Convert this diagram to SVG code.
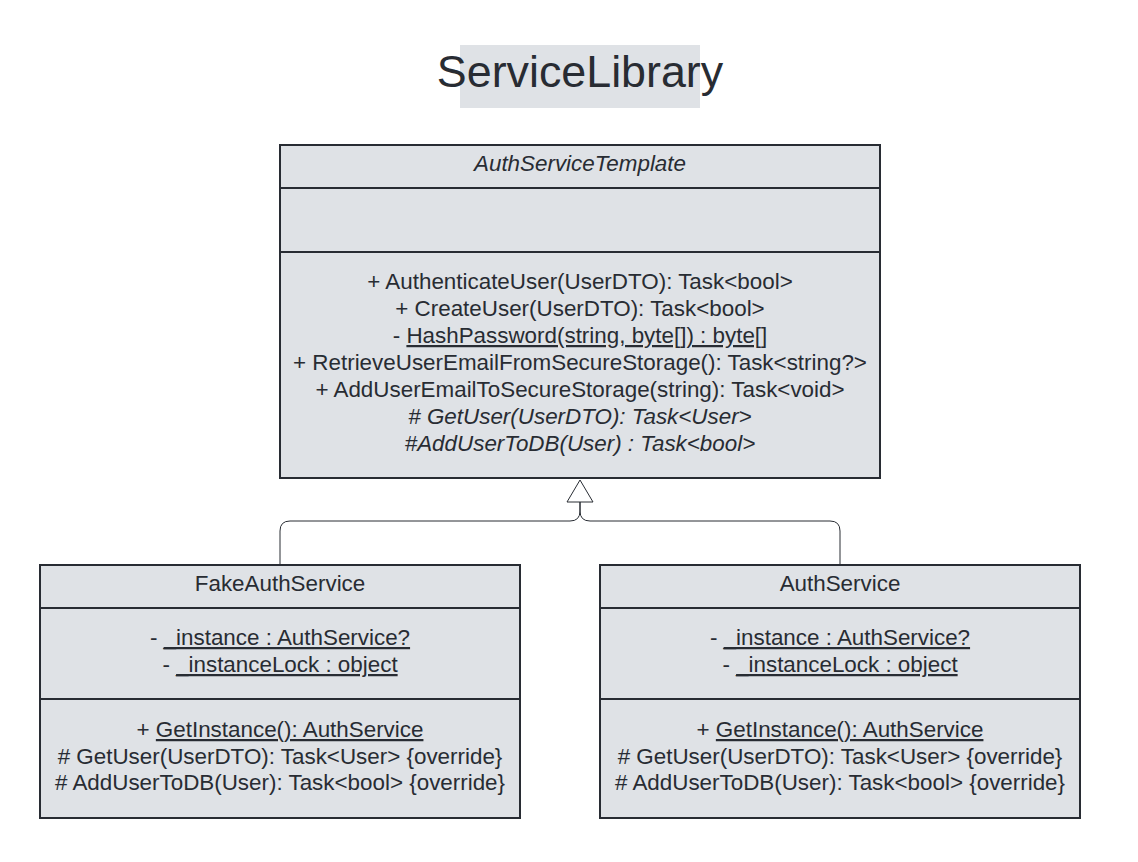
<svg xmlns="http://www.w3.org/2000/svg" width="1138" height="862" viewBox="0 0 1138 862">
<style>
.box{fill:#dfe2e6;stroke:#282c33;stroke-width:2}
.div{stroke:#282c33;stroke-width:2}
text{font-family:"Liberation Sans",Arial,sans-serif;font-size:22.4px;fill:#282c33;text-anchor:middle}
.it{font-style:italic}
.u{text-decoration:underline}
.conn{fill:none;stroke:#282c33;stroke-width:1}
</style>
<rect width="1138" height="862" fill="#ffffff"/>
<g id="title">
<rect x="460" y="45" width="240" height="63" fill="#dfe2e6"/>
<text x="580" y="87" style="font-size:44.8px">ServiceLibrary</text>
</g>
<g id="connectors">
<path class="conn" d="M580 502 V511 Q580 521 570 521 H290 Q280 521 280 531 V565"/>
<path class="conn" d="M580 502 V511 Q580 521 590 521 H830 Q840 521 840 531 V565"/>
<polygon points="580,480 593,502 567,502" fill="#ffffff" stroke="#282c33" stroke-width="1"/>
</g>
<g id="AuthServiceTemplate">
<rect class="box" x="280" y="145" width="600" height="333"/>
<line class="div" x1="280" y1="188" x2="880" y2="188"/>
<line class="div" x1="280" y1="252" x2="880" y2="252"/>
<text x="580" y="171" class="it">AuthServiceTemplate</text>
<text x="580" y="289">+ AuthenticateUser(UserDTO): Task&lt;bool&gt;</text>
<text x="580" y="316">+ CreateUser(UserDTO): Task&lt;bool&gt;</text>
<text x="580" y="343">- <tspan class="u">HashPassword(string, byte[]) : byte[]</tspan></text>
<text x="580" y="370">+ RetrieveUserEmailFromSecureStorage(): Task&lt;string?&gt;</text>
<text x="580" y="397">+ AddUserEmailToSecureStorage(string): Task&lt;void&gt;</text>
<text x="580" y="424" class="it"># GetUser(UserDTO): Task&lt;User&gt;</text>
<text x="580" y="451" class="it">#AddUserToDB(User) : Task&lt;bool&gt;</text>
</g>
<g id="FakeAuthService">
<rect class="box" x="40" y="565" width="480" height="253"/>
<line class="div" x1="40" y1="608" x2="520" y2="608"/>
<line class="div" x1="40" y1="699" x2="520" y2="699"/>
<text x="280" y="591">FakeAuthService</text>
<text x="280" y="645">- <tspan class="u">_instance : AuthService?</tspan></text>
<text x="280" y="672">- <tspan class="u">_instanceLock : object</tspan></text>
<text x="280" y="737">+ <tspan class="u">GetInstance(): AuthService</tspan></text>
<text x="280" y="764"># GetUser(UserDTO): Task&lt;User&gt; {override}</text>
<text x="280" y="790"># AddUserToDB(User): Task&lt;bool&gt; {override}</text>
</g>
<g id="AuthService">
<rect class="box" x="600" y="565" width="480" height="253"/>
<line class="div" x1="600" y1="608" x2="1080" y2="608"/>
<line class="div" x1="600" y1="699" x2="1080" y2="699"/>
<text x="840" y="591">AuthService</text>
<text x="840" y="645">- <tspan class="u">_instance : AuthService?</tspan></text>
<text x="840" y="672">- <tspan class="u">_instanceLock : object</tspan></text>
<text x="840" y="737">+ <tspan class="u">GetInstance(): AuthService</tspan></text>
<text x="840" y="764"># GetUser(UserDTO): Task&lt;User&gt; {override}</text>
<text x="840" y="790"># AddUserToDB(User): Task&lt;bool&gt; {override}</text>
</g>
</svg>
